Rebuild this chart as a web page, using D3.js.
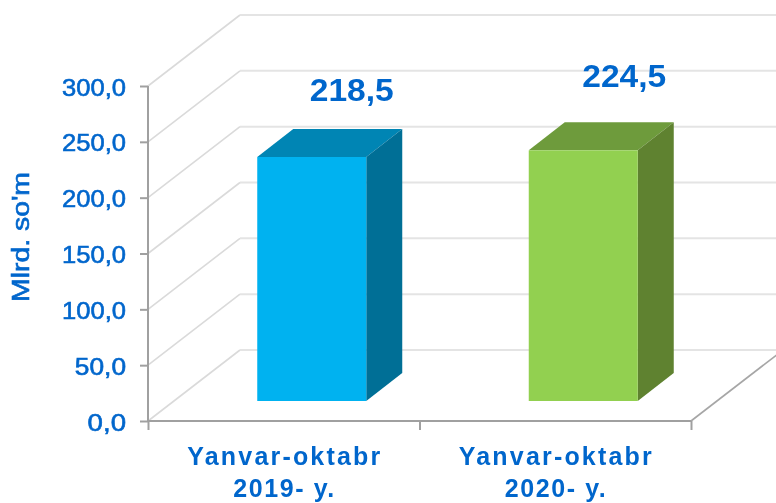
<!DOCTYPE html>
<html><head><meta charset="utf-8">
<script src="https://cdn.jsdelivr.net/npm/d3@7/dist/d3.min.js"></script>
<style>
html,body{margin:0;padding:0;background:#fff;overflow:hidden}
svg{display:block;filter:blur(0.35px)}
text{font-family:"Liberation Sans",Arial,sans-serif;fill:#0066CC}
</style></head><body>
<svg id="c" width="776" height="503"></svg>
<script>
const categoriesLine1 = ["Yanvar-oktabr", "Yanvar-oktabr"];
const categoriesLine2 = ["2019- y.", "2020- y."];
const values = [218.5, 224.5];
const valueLabels = ["218,5", "224,5"];
const yTicks = [0, 50, 100, 150, 200, 250, 300];
const yTickLabels = ["0,0", "50,0", "100,0", "150,0", "200,0", "250,0", "300,0"];
const faceColors = ["#00B2F0", "#92D050"];
const topColors = ["#0085B4", "#6E9B3C"];
const sideColors = ["#006F96", "#5F8230"];
const axisTitle = "Mlrd. so'm";

const svg = d3.select("#c");
const x = d3.scaleBand().domain(d3.range(values.length)).range([148, 691]);
const y = d3.scaleLinear().domain([0, 300]).range([421, 86]);
const wall = {dx: 92, dy: -71};
const front = {dx: 26, dy: -20};   // bar front face inside the floor depth
const depth = {dx: 36, dy: -28};   // bar depth
const barW = 109;

// walls: gridlines
const grid = svg.append("g");
yTicks.forEach(t => {
  grid.append("path")
    .attr("d", `M${x.range()[0]},${y(t)}L${x.range()[0]+wall.dx},${y(t)+wall.dy}`)
    .attr("fill","none").attr("stroke","#DADADA").attr("stroke-width",1.6);
  grid.append("line")
    .attr("x1", x.range()[0]+wall.dx).attr("x2", x.range()[1]+wall.dx)
    .attr("y1", y(t)+wall.dy).attr("y2", y(t)+wall.dy)
    .attr("stroke","#E4E4E4").attr("stroke-width",2);
});
// floor edge
svg.append("path")
  .attr("d", `M${x.range()[1]},${y(0)}L${x.range()[1]+wall.dx},${y(0)+wall.dy}`)
  .attr("fill","none").attr("stroke","#A6A6A6").attr("stroke-width",1.6);

// axes
const axisCol = "#A0A0A0";
const yAxis = svg.append("g").attr("transform",`translate(${x.range()[0]},0)`)
  .call(d3.axisLeft(y).tickValues(yTicks).tickSize(8).tickPadding(14).tickFormat((d,i)=>yTickLabels[i]));
const xEdges = [...x.domain().map(d=>x(d)), x.range()[1]];
const xAxis = svg.append("g").attr("transform",`translate(0,${y(0)})`)
  .call(d3.axisBottom(d3.scaleLinear().domain([148,691]).range([148,691])).tickValues(xEdges).tickSize(9).tickFormat(""));
[yAxis,xAxis].forEach(a=>{
  a.selectAll("path.domain").attr("stroke",axisCol).attr("stroke-width",2);
  a.selectAll("line").attr("stroke",axisCol).attr("stroke-width",2);
});
yAxis.select("path.domain").attr("d",`M0,${y(300)}V${y(0)}`);
xAxis.select("path.domain").attr("d",`M148,0H691`);
yAxis.selectAll("text")
  .attr("font-size",24).attr("font-family",'"Liberation Sans",Arial,sans-serif').attr("font-weight",400)
  .attr("stroke","#0066CC").attr("stroke-width",0.6)
  .attr("fill","#0066CC").attr("dy","0.38em")
  .attr("textLength",(d,i)=>yTickLabels[i].length*12.8)
  .attr("lengthAdjust","spacingAndGlyphs");

// bars
const bars = svg.selectAll("g.bar").data(values).join("g").attr("class","bar");
bars.each(function(v,i){
  const g = d3.select(this);
  const cx = x(i) + x.bandwidth()/2 + 2;
  const L = cx - barW/2 + front.dx, R = L + barW;
  const T = y(v) + front.dy, B = y(0) + front.dy;
  g.append("path").attr("fill",topColors[i])
    .attr("d",`M${L},${T}L${L+depth.dx},${T+depth.dy}H${R+depth.dx}L${R},${T}Z`);
  g.append("path").attr("fill",sideColors[i])
    .attr("d",`M${R},${T}L${R+depth.dx},${T+depth.dy}V${B+depth.dy}L${R},${B}Z`);
  g.append("rect").attr("fill",faceColors[i])
    .attr("x",L).attr("y",T).attr("width",barW).attr("height",B-T);
});

// value labels
const labelPos = [{dx:43, dy:-56},{dx:44, dy:-63}];
svg.selectAll("text.val").data(values).join("text").attr("class","val")
  .attr("x",(v,i)=>x(i)+x.bandwidth()/2+labelPos[i].dx+25)
  .attr("y",(v,i)=>y(v)+front.dy+labelPos[i].dy)
  .attr("text-anchor","middle").attr("font-weight",700).attr("font-size",32)
  .attr("textLength",84).attr("lengthAdjust","spacingAndGlyphs")
  .text((v,i)=>valueLabels[i]);

// category labels
const cat = svg.selectAll("g.cat").data(categoriesLine1).join("g").attr("class","cat");
cat.append("text").attr("x",(d,i)=>x(i)+x.bandwidth()/2).attr("y",465)
  .attr("text-anchor","middle").attr("font-weight",700).attr("font-size",25)
  .attr("textLength",193).attr("lengthAdjust","spacing").text(d=>d);
cat.append("text").attr("x",(d,i)=>x(i)+x.bandwidth()/2).attr("y",497)
  .attr("text-anchor","middle").attr("font-weight",700).attr("font-size",25)
  .attr("textLength",101).attr("lengthAdjust","spacing").text((d,i)=>categoriesLine2[i]);

// axis title
svg.append("text").attr("transform","translate(29,237) rotate(-90)")
  .attr("text-anchor","middle").attr("font-weight",400).attr("font-size",23)
  .attr("stroke","#0066CC").attr("stroke-width",0.6)
  .attr("textLength",130).attr("lengthAdjust","spacingAndGlyphs").text(axisTitle);
</script></body></html>
